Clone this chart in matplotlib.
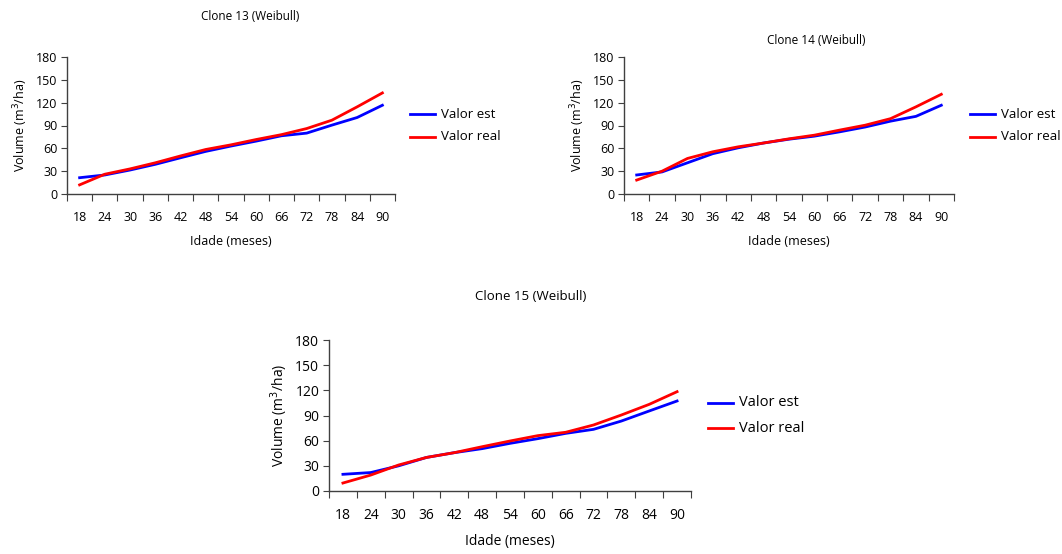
import matplotlib
matplotlib.use("Agg")
import matplotlib.pyplot as plt
import numpy as np

plt.rcParams['font.family'] = ['Open Sans', 'DejaVu Sans']

idade = [18, 24, 30, 36, 42, 48, 54, 60, 66, 72, 78, 84, 90]
yticks = [0, 30, 60, 90, 120, 150, 180]

c13_est = [21.4, 25, 31.5, 39, 47.6, 56, 63, 69.5, 76.5, 80, 90.5, 100.5, 116.6]
c13_real = [12, 26, 33, 41, 50, 58.5, 64.6, 71.6, 78, 86, 97, 114.5, 132.8]

c14_est = [25, 29, 41, 53, 60.7, 67, 72, 76, 81.7, 88, 95.7, 102, 116.6]
c14_real = [18.3, 30, 46.7, 55.5, 62, 67, 72.5, 77.3, 84, 90.4, 99, 114.5, 131]

c15_est = [19.9, 22, 30, 40, 45.7, 50.5, 56.8, 62.4, 68.7, 73.5, 83.4, 95.4, 107.3]
c15_real = [9.5, 19, 31, 40, 45.7, 52.8, 59.6, 66, 70, 78.7, 90.6, 103.3, 118.4]

titles = ["Clone 13 (Weibull)", "Clone 14 (Weibull)", "Clone 15 (Weibull)"]
series = [(c13_est, c13_real), (c14_est, c14_real), (c15_est, c15_real)]

W, H = 1062, 554
fig = plt.figure(figsize=(W / 100, H / 100), dpi=100)

# (left, right, top, bottom) in pixels; title pos; legend pos; font size
layouts = [
    dict(box=(67, 395, 57, 194), title=(250, 16), leg=(410, 114, 137), fs=9),
    dict(box=(624, 954, 57, 194), title=(816, 40), leg=(970, 114, 137), fs=9),
    dict(box=(329, 691, 340, 491), title=(531, 296), leg=(708, 403, 428), fs=10),
]

for (est, real), title, L in zip(series, titles, layouts):
    l, r, t, b = L['box']
    ax = fig.add_axes([l / W, 1 - b / H, (r - l) / W, (b - t) / H])
    x = np.arange(len(idade))
    ax.plot(x, est, color='#0000ff', lw=2, label='Valor est')
    ax.plot(x, real, color='#ff0000', lw=2, label='Valor real')
    ax.set_xlim(-0.5, len(idade) - 0.5)
    ax.set_ylim(0, 180)
    ax.set_yticks(yticks)
    ax.set_xticks(np.arange(-0.5, len(idade), 1.0))
    ax.set_xticklabels([])
    ax.set_xticks(x, minor=True)
    ax.set_xticklabels([str(v) for v in idade], minor=True)
    ax.tick_params(axis='x', which='minor', length=0, pad=12, labelsize=L['fs'])
    ax.tick_params(axis='x', which='major', length=5, direction='out', color='#404040')
    ax.tick_params(axis='y', length=4, direction='out', labelsize=L['fs'], color='#404040', pad=3)
    for s in ['top', 'right']:
        ax.spines[s].set_visible(False)
    for s in ['left', 'bottom']:
        ax.spines[s].set_color('#404040')
        ax.spines[s].set_linewidth(1)
    ax.set_xlabel('Idade (meses)', fontsize=L['fs'], labelpad=8)
    ax.set_ylabel('Volume (m$^3$/ha)', fontsize=L['fs'], labelpad=4)
    tx, ty = L['title']
    fig.text(tx / W, 1 - ty / H, title, ha='center', va='center', fontsize=L['fs'] - 0.5)
    lx, ly1, ly2 = L['leg']
    for yy, col, lab in [(ly1, '#0000ff', 'Valor est'), (ly2, '#ff0000', 'Valor real')]:
        fig.add_artist(plt.Line2D([lx / W, (lx + 25) / W], [1 - yy / H, 1 - yy / H],
                                  color=col, lw=2, transform=fig.transFigure))
        fig.text((lx + 31) / W, 1 - yy / H, lab, ha='left', va='center', fontsize=L['fs'] + 0.5)

fig.savefig('out.png', dpi=100)
